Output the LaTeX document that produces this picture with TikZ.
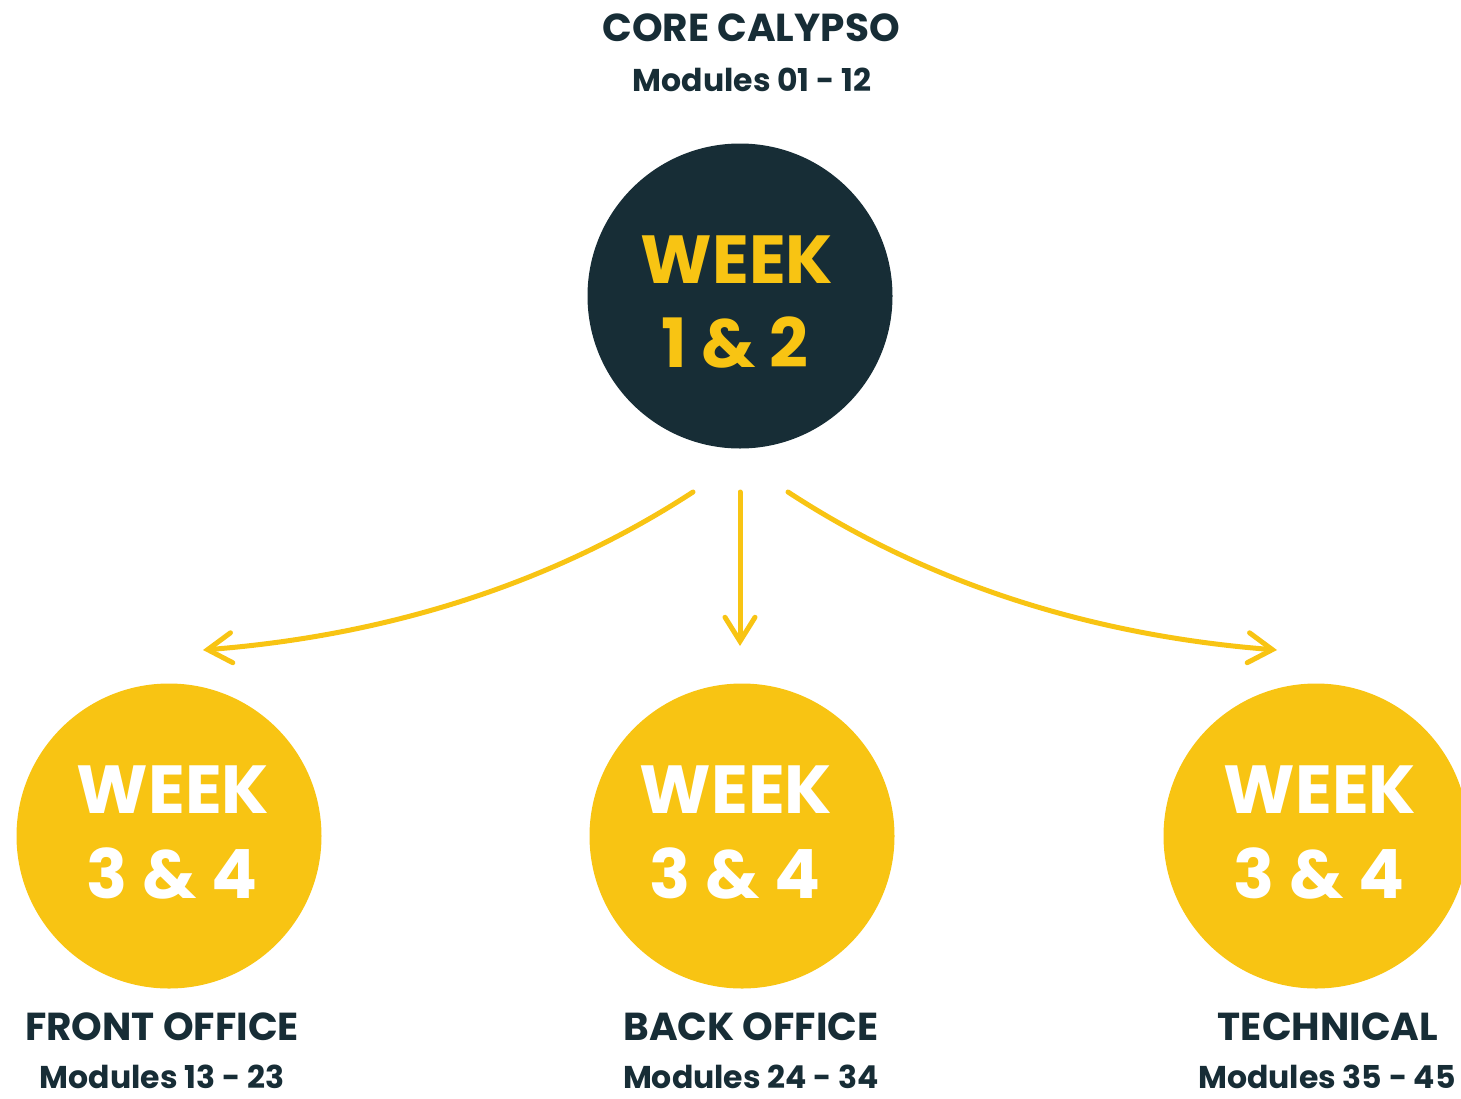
\documentclass[tikz,border=0pt]{standalone}
\usepackage{fontspec}
\setmainfont{Poppins}
\usetikzlibrary{arrows.meta}
\definecolor{navy}{HTML}{172D36}
\definecolor{gold}{HTML}{F8C413}
\begin{document}
\begin{tikzpicture}[x=1pt,y=-1pt,
  disc/.style={circle,minimum size=305pt,inner sep=0pt,align=center},
  darkdisc/.style={disc,fill=navy,text=gold},
  golddisc/.style={disc,fill=gold,text=white},
  weektxt/.style={font=\fontsize{68}{82}\selectfont\bfseries},
  head/.style={font=\fontsize{39}{44}\selectfont\bfseries,text=navy,inner sep=0pt},
  sub/.style={font=\fontsize{31.5}{36}\selectfont\bfseries,text=navy,inner sep=0pt},
  flow/.style={draw=gold,line width=5pt,line cap=round,-{Straight Barb[length=24pt,width=30pt,line cap=round]}}]
\useasboundingbox (0,0) rectangle (1461,1098);
\node[head] (coreT) at (751,28) {CORE CALYPSO};
\node[sub] (coreM) at (752,80) {Modules 01 - 12};
\node[darkdisc] (core) at (740,296) {};
\node[weektxt,text=gold] (coreW) at (737,260) {WEEK};
\node[weektxt,text=gold] (coreN) at (735,343) {1 \& 2};

\node[golddisc] (front) at (169,836) {};
\node[golddisc] (back) at (742,836) {};
\node[golddisc] (tech) at (1316,836) {};
\foreach \n/\x in {front/173,back/736,tech/1320}{
  \node[weektxt,text=white] (\n W) at (\x,790) {WEEK};
  \node[weektxt,text=white] (\n N) at (\x-1,873) {3 \& 4};
}
\node[head] (frontT) at (162,1027) {FRONT OFFICE};
\node[sub] (frontM) at (162,1077) {Modules 13 - 23};
\node[head] (backT) at (751,1027) {BACK OFFICE};
\node[sub] (backM) at (751,1077) {Modules 24 - 34};
\node[head] (techT) at (1328,1027) {TECHNICAL};
\node[sub] (techM) at (1327,1077) {Modules 35 - 45};

\coordinate (sL) at (693,492);
\coordinate (sM) at (740,492);
\coordinate (sR) at (788,492);
\coordinate (eL) at (203,650);
\coordinate (eM) at (740,646);
\coordinate (eR) at (1277,650);
\draw[flow] (sL) .. controls (553.7,582.7) and (390.3,635.3) .. (eL);
\draw[flow] (sM) -- (eM);
\draw[flow] (sR) .. controls (926.7,582.7) and (1089.7,635.3) .. (eR);
\end{tikzpicture}
\end{document}
